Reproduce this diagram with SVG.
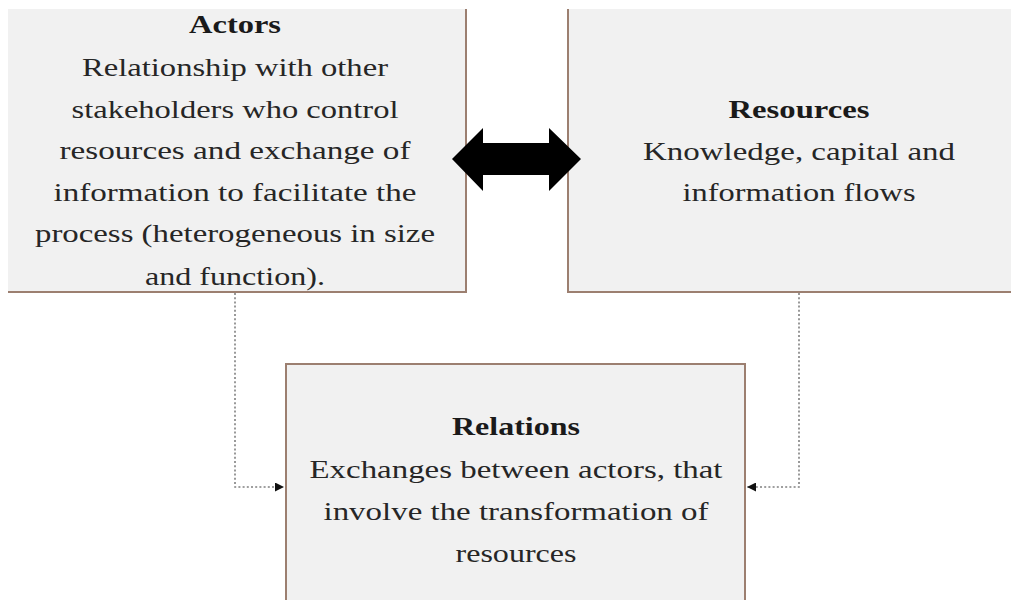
<svg xmlns="http://www.w3.org/2000/svg" width="1011" height="603" viewBox="0 0 1011 603">
  <style>
    .box { fill: #f1f1f1; }
    .edge { stroke: #9c7f70; stroke-width: 2; fill: none; }
    text { font-family: 'Liberation Serif', 'Times New Roman', Times, serif; font-size: 25.5px; text-anchor: middle; }
    .title { font-weight: bold; fill: #1a1a1a; }
    .body { fill: #262626; }
    .link { stroke: #808080; stroke-width: 1.6; stroke-dasharray: 2 2.2; fill: none; }
  </style>
  <defs>
    <marker id="tri" viewBox="0 0 10 10" refX="10" refY="5" markerWidth="10" markerHeight="9" markerUnits="userSpaceOnUse" orient="auto">
      <path d="M0,0 L10,5 L0,10 Z" fill="#111"/>
    </marker>
  </defs>

  <rect width="1011" height="603" fill="#ffffff"/>

  <!-- Actors -->
  <g id="actors">
    <rect class="box" x="8" y="9" width="458" height="283"/>
    <polyline class="edge" points="466,9 466,292 8,292"/>
    <text class="title" x="235" y="33" textLength="92" lengthAdjust="spacingAndGlyphs">Actors</text>
    <text class="body" x="235" y="76" textLength="306" lengthAdjust="spacingAndGlyphs">Relationship with other</text>
    <text class="body" x="235" y="118" textLength="327" lengthAdjust="spacingAndGlyphs">stakeholders who control</text>
    <text class="body" x="235" y="159" textLength="351" lengthAdjust="spacingAndGlyphs">resources and exchange of</text>
    <text class="body" x="235" y="201" textLength="363" lengthAdjust="spacingAndGlyphs">information to facilitate the</text>
    <text class="body" x="235" y="242" textLength="400" lengthAdjust="spacingAndGlyphs">process (heterogeneous in size</text>
    <text class="body" x="235" y="285" textLength="180" lengthAdjust="spacingAndGlyphs">and function).</text>
  </g>

  <!-- Resources -->
  <g id="resources">
    <rect class="box" x="568" y="9" width="443" height="283"/>
    <polyline class="edge" points="568,9 568,292 1011,292"/>
    <text class="title" x="799" y="118" textLength="141" lengthAdjust="spacingAndGlyphs">Resources</text>
    <text class="body" x="799" y="160" textLength="312" lengthAdjust="spacingAndGlyphs">Knowledge, capital and</text>
    <text class="body" x="799" y="201" textLength="233" lengthAdjust="spacingAndGlyphs">information flows</text>
  </g>

  <!-- Relations -->
  <g id="relations">
    <rect class="box" x="286" y="364" width="459" height="236"/>
    <polyline class="edge" points="286,600 286,364 745,364 745,600"/>
    <text class="title" x="516" y="435" textLength="128" lengthAdjust="spacingAndGlyphs">Relations</text>
    <text class="body" x="516" y="478" textLength="413" lengthAdjust="spacingAndGlyphs">Exchanges between actors, that</text>
    <text class="body" x="516" y="520" textLength="385" lengthAdjust="spacingAndGlyphs">involve the transformation of</text>
    <text class="body" x="516" y="562" textLength="121" lengthAdjust="spacingAndGlyphs">resources</text>
  </g>

  <!-- Connectors -->
  <g id="connectors">
    <!-- two-way block arrow between Actors and Resources -->
    <path d="M452,159 L483,128 L483,143 L549,143 L549,128 L581,159 L549,191 L549,175 L483,175 L483,191 Z" fill="#000"/>
    <!-- dotted elbows into Relations -->
    <polyline class="link" points="235,293 235,487 284,487" marker-end="url(#tri)"/>
    <polyline class="link" points="799,293 799,487 747,487" marker-end="url(#tri)"/>
  </g>
</svg>
